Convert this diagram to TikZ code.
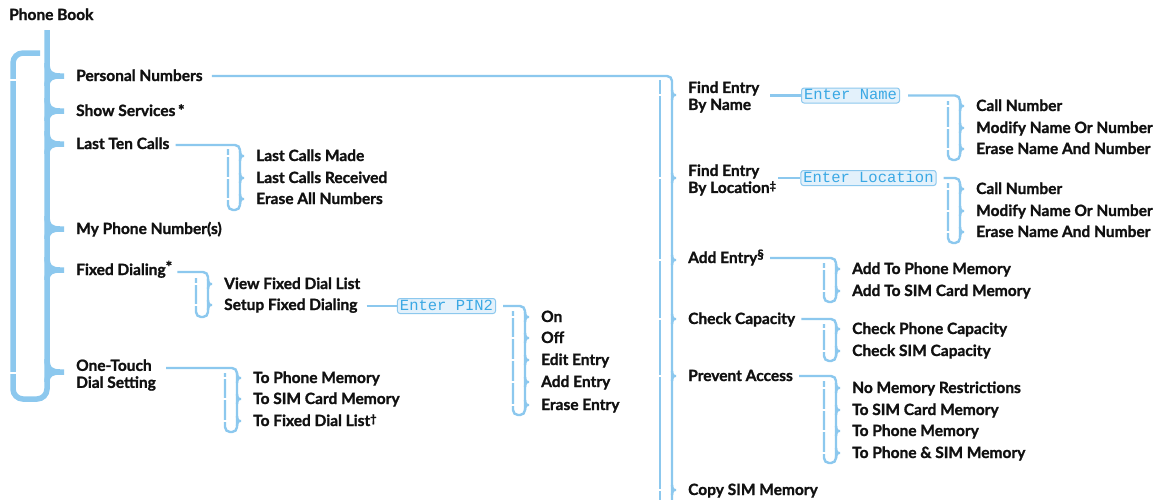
\documentclass[tikz,border=0pt]{standalone}
\usepackage{fontspec}
\setmainfont{Lato}[BoldFeatures={FakeBold=1.3}]
\newfontfamily\lcdfont{Liberation Mono}
\usetikzlibrary{calc}
\definecolor{lb}{HTML}{8CC8EE}
\definecolor{lcdfill}{HTML}{E3F1FB}
\definecolor{lcdtext}{HTML}{3AA8E4}
\definecolor{ink}{HTML}{111111}
\newcommand\lblfont{\fontsize{15.5}{17}\selectfont\bfseries}
\newcommand\supa[1]{\raisebox{3.5pt}{\fontsize{11}{11}\selectfont #1}}
% small bracket tick: tip at #1
\newcommand\brtick[1]{%
  \draw[br, shift={#1}] (-7,-5) .. controls (-7,-1.5) and (-5,0) .. (0,0)
        .. controls (-5,0) and (-7,1.5) .. (-7,5);
  \draw[gapline, shift={#1}] (-22,0) -- (-16,0);}
% main bracket tick
\newcommand\mtick[1]{%
  \draw[mainbr, shift={#1}] (-23,-13) .. controls (-23,-3) and (-19,0) .. (0,0)
        .. controls (-18,0) and (-23,2) .. (-23,10);}
\begin{document}
\begin{tikzpicture}[x=1pt,y=-1pt,
  lbl/.style={anchor=base west, inner sep=0pt, text=ink, font=\lblfont},
  lbl2/.style={anchor=west, inner sep=0pt, text=ink, font=\lblfont, align=left},
  br/.style={draw=lb, line width=2.4pt, rounded corners=5pt},
  mainbr/.style={draw=lb, line width=5.5pt, rounded corners=10pt},
  gapline/.style={draw=white, line width=1.3pt},
  lcd/.style={draw=lb, line width=1pt, fill=lcdfill, rounded corners=2.5pt,
    text=lcdtext, font=\lcdfont\fontsize{15.5}{15.5}\selectfont,
    text height=9.5pt, text depth=1.5pt, inner xsep=2.5pt, inner ysep=2pt}]
\useasboundingbox[fill=white] (0,0) rectangle (1159,499);

% ---------- main level ----------
\node[lbl] (pb) at (9,20) {Phone Book};
\coordinate (pbs) at (47,30);
\node[lbl] (pn)  at (76,81)  {Personal Numbers};
\node[lbl] (ss)  at (76,116) {Show Services\,*};
\node[lbl] (ltc) at (76,149) {Last Ten Calls};
\node[lbl] (mpn) at (76,234) {My Phone Number(s)};
\node[lbl] (fd)  at (76,275) {Fixed Dialing\raisebox{2.5pt}{*}};
\node[lbl2] (ot) at (76,375) {One-Touch\\Dial Setting};
\coordinate (otl) at (0,368);

\draw[mainbr] (pbs) |- (13,399) |- (40,53);
\draw[gapline, line width=1.5pt] (8,80) -- (18,80);
\draw[gapline, line width=1.5pt] (8,373) -- (18,373);
\mtick{($(pn.base west)+(-6,-5)$)}
\mtick{($(ss.base west)+(-6,-5)$)}
\mtick{($(ltc.base west)+(-6,-5)$)}
\mtick{($(mpn.base west)+(-6,-5)$)}
\mtick{($(fd.base west)+(-6,-5)$)}
\mtick{(70,372)}

% ---------- Last Ten Calls ----------
\node[lbl] (lt1) at (256,161) {Last Calls Made};
\node[lbl] (lt2) at (256,183) {Last Calls Received};
\node[lbl] (lt3) at (256,204) {Erase All Numbers};
\draw[br] ($(ltc.base east)+(6,-4)$) -| (240,210) -| (228,149);
\brtick{($(lt1.base west)+(-9,-5)$)}
\brtick{($(lt2.base west)+(-9,-5)$)}
\brtick{($(lt3.base west)+(-9,-5)$)}

% ---------- Fixed Dialing ----------
\node[lbl] (fd1) at (224,289) {View Fixed Dial List};
\node[lbl] (fd2) at (224,310) {Setup Fixed Dialing};
\draw[br] ($(fd.base east)+(5,-3)$) -| (208,317) -| (196,278);
\brtick{($(fd1.base west)+(-9,-5)$)}
\brtick{($(fd2.base west)+(-9,-5)$)}

\node[lcd] (pin) at (446.5,306) {Enter PIN2};
\draw[br] ($(fd2.base east)+(9,-4)$) -- (pin.west);
\node[lbl] (p1) at (541,322) {On};
\node[lbl] (p2) at (541,343) {Off};
\node[lbl] (p3) at (541,365) {Edit Entry};
\node[lbl] (p4) at (541,387) {Add Entry};
\node[lbl] (p5) at (541,410) {Erase Entry};
\draw[br] ([xshift=7pt]pin.east) -| (525,415) -| (513,311);
\brtick{($(p1.base west)+(-9,-5)$)}
\brtick{($(p2.base west)+(-9,-5)$)}
\brtick{($(p3.base west)+(-9,-5)$)}
\brtick{($(p4.base west)+(-9,-5)$)}
\brtick{($(p5.base west)+(-9,-5)$)}

% ---------- One-Touch ----------
\node[lbl] (o1) at (253,383) {To Phone Memory};
\node[lbl] (o2) at (253,404) {To SIM Card Memory};
\node[lbl] (o3) at (253,426) {To Fixed Dial List\supa{†}};
\draw[br] ([xshift=10pt]ot.east |- otl) -| (237,432) -| (225,373);
\brtick{($(o1.base west)+(-9,-5)$)}
\brtick{($(o2.base west)+(-9,-5)$)}
\brtick{($(o3.base west)+(-9,-5)$)}

% ---------- Personal Numbers ----------
\node[lbl2] (fen) at (688,97)  {Find Entry\\By Name};
\node[lbl2] (fel) at (688,180) {Find Entry\\By Location\supa{‡}};
\node[lbl] (ae) at (688,263) {Add Entry\raisebox{4pt}{\fontsize{13}{13}\selectfont§}};
\node[lbl] (cc) at (688,324) {Check Capacity};
\node[lbl] (pa) at (688,381) {Prevent Access};
\node[lbl] (cs) at (688,495) {Copy SIM Memory};
\draw[br] ($(pn.base east)+(9,-5)$) -| (672,510);
\draw[br] (660,80) -- (660,510);
\brtick{($(fen.west)+(-9,-2)$)}
\brtick{($(fel.west)+(-9,-2)$)}
\brtick{($(ae.base west)+(-9,-3)$)}
\brtick{($(cc.base west)+(-9,-5)$)}
\brtick{($(pa.base west)+(-9,-5)$)}
\brtick{($(cs.base west)+(-9,-5)$)}

% Find Entry By Name
\node[lcd] (en) at (850.5,95.5) {Enter Name};
\draw[br] ([xshift=-31pt]en.west) -- (en.west);
\node[lbl] (n1) at (976,111) {Call Number};
\node[lbl] (n2) at (976,133) {Modify Name Or Number};
\node[lbl] (n3) at (976,154) {Erase Name And Number};
\draw[br] ([xshift=8pt]en.east) -| (960,160) -| (948,101);
\brtick{($(n1.base west)+(-9,-5)$)}
\brtick{($(n2.base west)+(-9,-5)$)}
\brtick{($(n3.base west)+(-9,-5)$)}

% Find Entry By Location
\node[lcd] (el) at (868.5,178) {Enter Location};
\draw[br] ([xshift=-22pt]el.west) -- (el.west);
\node[lbl] (l1) at (976,194) {Call Number};
\node[lbl] (l2) at (976,216) {Modify Name Or Number};
\node[lbl] (l3) at (976,237) {Erase Name And Number};
\draw[br] ([xshift=7pt]el.east) -| (960,243) -| (948,183);
\brtick{($(l1.base west)+(-9,-5)$)}
\brtick{($(l2.base west)+(-9,-5)$)}
\brtick{($(l3.base west)+(-9,-5)$)}

% Add Entry
\node[lbl] (a1) at (852,274) {Add To Phone Memory};
\node[lbl] (a2) at (852,296) {Add To SIM Card Memory};
\draw[br] ($(ae.base east)+(6,-5)$) -| (836,302) -| (824,263);
\brtick{($(a1.base west)+(-9,-5)$)}
\brtick{($(a2.base west)+(-9,-5)$)}

% Check Capacity
\node[lbl] (k1) at (852,334) {Check Phone Capacity};
\node[lbl] (k2) at (852,356) {Check SIM Capacity};
\draw[br] ($(cc.base east)+(6,-5)$) -| (836,361) -| (824,324);
\brtick{($(k1.base west)+(-9,-5)$)}
\brtick{($(k2.base west)+(-9,-5)$)}

% Prevent Access
\node[lbl] (r1) at (852,393) {No Memory Restrictions};
\node[lbl] (r2) at (852,415) {To SIM Card Memory};
\node[lbl] (r3) at (852,436) {To Phone Memory};
\node[lbl] (r4) at (852,458) {To Phone \& SIM Memory};
\draw[br] ($(pa.base east)+(6,-5)$) -| (836,463) -| (824,381);
\brtick{($(r1.base west)+(-9,-5)$)}
\brtick{($(r2.base west)+(-9,-5)$)}
\brtick{($(r3.base west)+(-9,-5)$)}
\brtick{($(r4.base west)+(-9,-5)$)}
\end{tikzpicture}
\end{document}
